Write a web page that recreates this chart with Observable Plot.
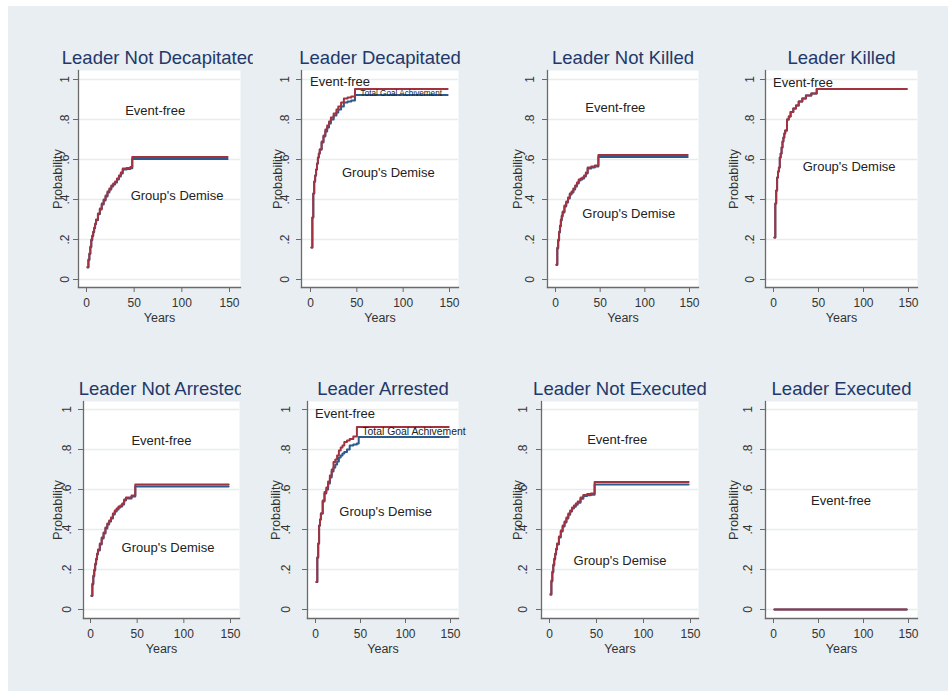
<!DOCTYPE html>
<html><head><meta charset="utf-8">
<script src="https://cdn.jsdelivr.net/npm/d3@7"></script>
<script src="https://cdn.jsdelivr.net/npm/@observablehq/plot@0.6"></script>
<style>
body{margin:0;background:#fff;font-family:"Liberation Sans",Arial,sans-serif;}
#page{position:relative;width:948px;height:691px;overflow:hidden;}
#bg{position:absolute;left:8px;top:6px;width:940px;height:685px;background:#e8eef1;}
.panel{position:absolute;overflow:hidden;}
.panel svg{overflow:hidden;display:block;}
</style></head><body><div id="page"><div id="bg"></div></div>
<script>
// ---------- data ----------
const panelTitles = ["Leader Not Decapitated","Leader Decapitated","Leader Not Killed","Leader Killed",
                     "Leader Not Arrested","Leader Arrested","Leader Not Executed","Leader Executed"];
const xTicks = [0, 50, 100, 150];
const yTicks = [0, 0.2, 0.4, 0.6, 0.8, 1];
const yTickLabels = ["0", ".2", ".4", ".6", ".8", "1"];
const xLabel = "Years";
const yLabel = "Probability";

// Leader Not Decapitated
const years1 = [1,2,3,4,5,6,7,8,9,10,12,14,16,18,20,22,24,26,28,30,32,34,36,38,42,46,48,148];
const red1   = [.062,.10,.13,.165,.20,.22,.24,.26,.28,.30,.33,.355,.38,.40,.42,.44,.455,.47,.48,.49,.505,.52,.535,.555,.558,.562,.612,.612];
const blue1  = [.060,.097,.127,.161,.196,.216,.236,.256,.276,.296,.326,.35,.375,.395,.415,.435,.45,.465,.475,.485,.50,.515,.53,.55,.553,.556,.603,.603];
// Leader Decapitated
const years2 = [1,2,3,4,5,6,7,8,9,10,12,14,16,18,20,22,25,28,30,33,36,40,44,48,148];
const red2   = [.16,.31,.43,.49,.52,.55,.58,.61,.63,.65,.69,.72,.75,.77,.79,.81,.83,.85,.865,.885,.905,.91,.915,.953,.953];
const blue2  = [.16,.31,.43,.49,.52,.55,.58,.61,.63,.65,.685,.715,.74,.76,.78,.80,.82,.835,.85,.865,.885,.89,.895,.923,.923];
// Leader Not Killed
const years3 = [1,2,3,4,5,6,7,8,10,12,14,16,18,20,22,24,26,28,30,32,34,36,40,44,48,148];
const red3   = [.075,.16,.20,.24,.27,.30,.32,.34,.37,.39,.41,.43,.44,.455,.47,.485,.50,.505,.51,.52,.535,.56,.565,.57,.622,.622];
const blue3  = [.072,.155,.195,.235,.265,.295,.315,.335,.365,.385,.405,.425,.435,.45,.465,.48,.495,.50,.505,.515,.53,.555,.56,.565,.612,.612];
// Leader Killed
const years4 = [1,2,3,4,5,6,7,8,9,10,11,12,13,15,17,19,22,25,28,32,36,42,48,148];
const red4   = [.21,.38,.445,.51,.54,.56,.61,.63,.66,.69,.71,.73,.745,.80,.815,.837,.855,.87,.89,.905,.92,.93,.953,.953];
const blue4  = [.21,.38,.445,.51,.54,.56,.61,.63,.66,.69,.71,.73,.745,.80,.815,.837,.855,.87,.89,.905,.92,.93,.952,.952];
// Leader Not Arrested
const years5 = [1,2,3,4,5,6,7,8,10,12,14,16,18,20,22,24,26,28,30,32,34,36,38,44,48,148];
const red5   = [.07,.13,.17,.20,.23,.255,.28,.30,.33,.36,.385,.41,.43,.445,.46,.48,.495,.505,.515,.52,.53,.55,.56,.57,.625,.625];
const blue5  = [.067,.125,.165,.195,.225,.25,.275,.295,.325,.355,.38,.405,.425,.44,.455,.475,.49,.50,.51,.515,.525,.545,.555,.565,.615,.615];
// Leader Arrested
const years6 = [1,2,3,4,5,6,8,10,12,14,16,18,20,22,24,26,28,30,32,35,38,42,46,48,148];
const red6   = [.137,.26,.33,.42,.45,.48,.545,.587,.61,.64,.67,.70,.737,.75,.77,.795,.81,.82,.837,.845,.853,.865,.912,.912,.912];
const blue6  = [.137,.26,.33,.42,.45,.48,.54,.58,.60,.63,.66,.69,.71,.725,.74,.76,.77,.78,.787,.80,.82,.825,.83,.862,.862];
// Leader Not Executed
const years7 = [1,2,3,4,5,6,7,8,10,12,14,16,18,20,22,24,26,28,30,33,36,40,44,48,148];
const red7   = [.078,.145,.19,.225,.255,.28,.305,.33,.365,.395,.42,.44,.46,.48,.495,.51,.52,.53,.54,.56,.573,.577,.58,.637,.637];
const blue7  = [.074,.14,.185,.22,.25,.275,.30,.325,.36,.39,.415,.435,.455,.474,.49,.505,.514,.524,.534,.554,.567,.571,.574,.625,.625];
// Leader Executed
const years8 = [1,148];
const red8   = [0,0];
const blue8  = [0,0];

const yearsAll = [years1,years2,years3,years4,years5,years6,years7,years8];
const redAll   = [red1,red2,red3,red4,red5,red6,red7,red8];
const blueAll  = [blue1,blue2,blue3,blue4,blue5,blue6,blue7,blue8];

// annotation texts per panel: [label, year, prob, anchor, size]
const notes = [
  [["Event-free",72,.845,"middle",13],["Group's Demise",95,.42,"middle",13]],
  [["Event-free",-0.5,.99,"start",13],["Group's Demise",84,.535,"middle",13],["Total Goal Achivement",54,.933,"start",8.2]],
  [["Event-free",67,.86,"middle",13],["Group's Demise",82,.33,"middle",13]],
  [["Event-free",-0.5,.985,"start",13],["Group's Demise",84,.565,"middle",13]],
  [["Event-free",76,.845,"middle",13],["Group's Demise",83,.31,"middle",13]],
  [["Event-free",-0.5,.98,"start",13],["Group's Demise",78,.487,"middle",13],["Total Goal Achivement",52,.887,"start",10.4]],
  [["Event-free",72,.85,"middle",13],["Group's Demise",75,.245,"middle",13]],
  [["Event-free",75,.545,"middle",13]]
];

// ---------- layout / style ----------
const FONT = "'Liberation Sans', Arial, Helvetica, sans-serif";
const RED = "#a2323f", BLUE = "#2b5b8d", GRID = "#e6edf0", AXIS = "#6a6a6a", TITLE = "#23386a", INK = "#222";
// left, top, width, marginLeft, marginRight, insetLeft, insetRight, tickOffset, labelOffset
const layout = [
  [18, 40, 235, 60, 13, 8, 11, 13, 21],
  [253, 40, 225, 48, 20, 9, 9, 16, 24],
  [478, 40, 240, 69, 20, 8, 9, 17, 30],
  [718, 40, 222, 47, 23, 8, 9, 15, 32],
  [18, 370, 223, 65, 2, 7, 9, 16, 26],
  [241, 370, 237, 66, 20, 8, 8, 21, 32],
  [478, 370, 240, 63, 20, 8, 8, 18, 24],
  [718, 370, 222, 47, 23, 8, 9, 17, 32]
];

const centered = {textAnchor: "middle", lineAnchor: "middle"};
const page = document.getElementById("page");
layout.forEach((L, k) => {
  const [left, top, w, ml, mr, il, ir, tickOff, labOff] = L;
  const topRow = k < 4;
  const blue = yearsAll[k].map((t, i) => ({t, v: blueAll[k][i]}));
  const red = yearsAll[k].map((t, i) => ({t, v: redAll[k][i]}));
  const chart = Plot.plot({
    width: w, height: 290,
    marginLeft: ml, marginRight: mr,
    marginTop: topRow ? 30 : 31, marginBottom: topRow ? 43 : 42,
    style: {background: "transparent", fontFamily: FONT, color: "#333", overflow: "hidden"},
    x: {domain: [0, 150], insetLeft: il, insetRight: ir},
    y: {domain: [0, 1], insetTop: topRow ? 9 : 8, insetBottom: topRow ? 8 : 9},
    marks: [
      Plot.frame({fill: "white", stroke: null}),
      Plot.ruleY(yTicks, {stroke: GRID, strokeWidth: 1.3}),
      Plot.frame({anchor: "left", stroke: AXIS, strokeWidth: 1.3}),
      Plot.frame({anchor: "bottom", stroke: AXIS, strokeWidth: 1.3}),
      Plot.axisX(xTicks, {tickSize: 5, tickPadding: 5.5, fontSize: 12, stroke: AXIS, label: null}),
      Plot.axisY(yTicks, {tickSize: 5, tickFormat: () => "", stroke: AXIS, label: null}),
      Plot.text(yTicks, {y: d => d, text: (d, i) => yTickLabels[i], frameAnchor: "left", dx: -tickOff, rotate: -90, fontSize: 12, fill: "#333", ...centered}),
      Plot.text([yLabel], {text: d => d, frameAnchor: "left", dx: -labOff, rotate: -90, fontSize: 12.8, fill: "#333", ...centered}),
      Plot.text([xLabel], {text: d => d, frameAnchor: "bottom", dy: 30, fontSize: 12.5, fill: "#333", ...centered}),
      Plot.text([panelTitles[k]], {text: d => d, frameAnchor: "top", dy: -12, fontSize: 18.5, fill: TITLE, ...centered}),
      Plot.line(blue, {x: "t", y: "v", curve: "step-after", stroke: BLUE, strokeWidth: 2}),
      Plot.line(red, {x: "t", y: "v", curve: "step-after", stroke: RED, strokeWidth: 2}),
      ...notes[k].map(n => Plot.text([n], {x: d => d[1], y: d => d[2], text: d => d[0], textAnchor: n[3], lineAnchor: "middle", fontSize: n[4], fill: INK}))
    ]
  });
  const div = document.createElement("div");
  div.className = "panel";
  div.style.left = left + "px";
  div.style.top = top + "px";
  div.style.width = w + "px";
  div.style.height = "290px";
  div.appendChild(chart);
  page.appendChild(div);
});
</script>
</body></html>
